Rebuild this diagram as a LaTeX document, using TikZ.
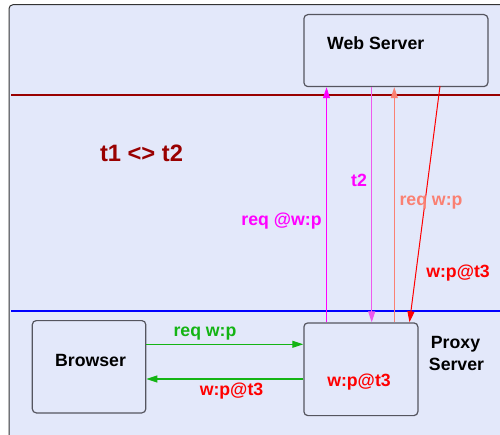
\documentclass[tikz,border=0pt]{standalone}
\usepackage{fontspec}
\setmainfont{Liberation Sans}
\usetikzlibrary{arrows.meta,calc}
\definecolor{bg}{RGB}{227,232,250}
\definecolor{boxline}{RGB}{85,85,95}
\definecolor{darkred}{RGB}{153,0,0}
\definecolor{mag}{RGB}{255,0,255}
\definecolor{lightmag}{RGB}{238,90,238}
\definecolor{salm}{RGB}{250,128,114}
\definecolor{grn}{RGB}{20,180,20}
\tikzset{
  box/.style={draw=boxline, line width=1.2pt, rounded corners=4pt, fill=bg,
    inner sep=0pt, anchor=north west},
  txt/.style={font=\fontsize{17.7}{20}\selectfont\bfseries, inner sep=0pt, anchor=base},
  msg/.style={line width=1pt, -{Triangle[length=11pt,width=7pt]}},
}
\begin{document}
\begin{tikzpicture}[x=1pt,y=-1pt]
\useasboundingbox (0,0) rectangle (500,435);
\clip (0,0) rectangle (500,435);
% page frame
\draw[fill=bg, draw=black!80, line width=1pt, rounded corners=4pt] (9,4.7) rectangle (520,455);
% time lines
\draw[darkred, line width=2.4pt] (11,95.3) -- (500,95.3);
\draw[blue, line width=2.4pt] (11,310.7) -- (500,310.7);
% hosts
\node[box, minimum width=184pt, minimum height=72pt] (web) at (303.3,14) {};
\node[box, minimum width=113.5pt, minimum height=92.3pt] (browser) at (31.7,320) {};
\node[box, minimum width=114pt, minimum height=92.7pt] (proxy) at (303.3,322.3) {};
\node[txt, anchor=base west] (webtxt) at (327,50) {Web Server};
\node[txt] (browsertxt) at (90.5,366.7) {Browser};
\node[txt, text=red] (cache) at (359,386) {w:p@t3};
\node[txt] (proxytxt1) at (455.5,348.3) {Proxy};
\node[txt] (proxytxt2) at (456.5,370) {Server};
\node[txt, font=\fontsize{23.7}{26}\selectfont\bfseries, text=darkred] (cond) at (141.5,162) {t1 <> t2};
% message columns
\coordinate (ca) at (326.5,0);
\coordinate (cb) at (371.7,0);
\coordinate (cc) at (394.3,0);
\draw[msg, mag] (ca |- proxy.north) -- (ca |- web.south);
\draw[msg, lightmag] (cb |- web.south) -- (cb |- proxy.north);
\draw[msg, salm] (cc |- proxy.north) -- (cc |- web.south);
\coordinate (rtop) at (440,86);
\coordinate (rbot) at (409.5,322.3);
\draw[msg, red] (rtop) -- (rbot);
\node[txt, text=mag] (la) at (281.5,226) {req @w:p};
\node[txt, text=mag] (lb) at (359,186.5) {t2};
\node[txt, text=salm] (lc) at (431,206) {req w:p};
\node[txt, text=red] (ld) at (458,278) {w:p@t3};
% browser <-> proxy
\coordinate (ya) at (0,344.3);
\coordinate (yb) at (0,379);
\draw[msg, grn, line width=1.2pt] (browser.east |- ya) -- (proxy.west |- ya);
\draw[msg, grn, line width=1.2pt] (proxy.west |- yb) -- (browser.east |- yb);
\node[txt, text=grn] (le) at (205,336.7) {req w:p};
\node[txt, text=red] (lf) at (231.5,395.5) {w:p@t3};
\end{tikzpicture}
\end{document}
